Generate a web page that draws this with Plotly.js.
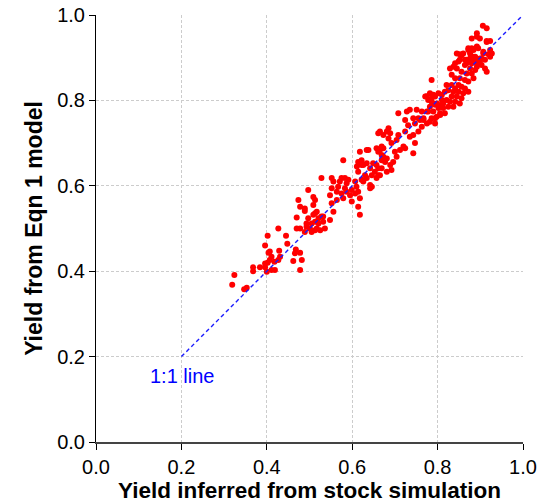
<!DOCTYPE html>
<html>
<head>
<meta charset="utf-8">
<script src="https://cdn.plot.ly/plotly-3.0.1.min.js"></script>
<style>html,body{margin:0;padding:0;background:#fff;}#chart{width:544px;height:504px;}</style>
</head>
<body>
<div id="chart"></div>
<script>
// Simulated (x) vs model (y) yields
const simYield = [
0.324,0.319,0.347,0.353,0.368,0.368,0.384,0.396,0.400,0.396,0.402,0.407,0.411,0.418,0.419,0.411,0.404,0.407,0.427,0.431,
0.429,0.396,0.402,0.427,0.445,0.448,0.462,0.466,0.468,0.478,0.482,0.478,0.470,0.478,0.470,0.489,0.489,0.493,0.505,0.513,
0.521,0.513,0.525,0.532,
0.478,0.474,0.489,0.497,0.493,0.501,0.505,0.509,0.513,0.509,0.497,0.528,0.509,0.517,0.513,0.521,0.517,0.528,0.532,0.536,
0.548,0.556,0.552,0.548,0.552,0.556,0.552,0.564,0.564,0.567,0.571,0.575,0.579,0.583,0.587,0.591,0.587,0.595,0.599,0.599,
0.579,0.575,0.583,0.607,0.610,0.614,0.618,0.607,0.611,0.614,0.618,0.622,0.626,0.634,0.630,0.634,0.626,0.642,0.646,0.642,
0.649,0.653,0.657,0.661,0.665,0.669,0.665,0.673,0.677,0.669,0.618,0.614,0.642,0.646,
0.708,0.728,0.735,0.751,0.743,0.724,0.731,0.747,0.759,0.767,0.775,0.771,0.782,0.790,0.786,0.794,0.790,0.798,0.806,0.802,
0.810,0.786,0.794,0.782,0.763,0.685,0.681,0.685,0.689,0.673,0.665,0.661,0.692,0.704,0.708,0.724,0.735,0.743,0.755,0.747,
0.743,0.720,0.724,0.712,0.700,0.704,0.696,0.689,0.681,0.673,0.661,0.657,0.669,0.638,0.622,0.614,0.634,0.657,0.661,0.622,
0.669,0.681,0.692,
0.880,0.892,0.915,0.923,0.927,0.907,0.895,0.884,0.872,0.876,0.888,0.899,0.911,0.903,0.892,0.880,0.868,0.856,0.845,0.849,
0.864,0.876,0.888,0.880,0.868,0.856,0.845,0.837,0.829,0.833,0.841,0.852,0.864,0.872,0.884,0.892,0.911,0.915,0.786,0.821,
0.833,0.841,0.849,0.856,0.864,0.860,0.849,0.837,0.825,0.817,0.810,0.802,0.794,0.786,0.778,0.833,0.845,0.856,0.852,0.841,
0.829,0.821,0.813,0.806,0.798,0.790,0.782,0.778,0.763,0.755,0.767,0.775,0.794,0.806,0.817,0.813,0.825,0.837,0.872,0.774,
0.906,0.915,0.892,0.899,0.915,0.923,0.892,0.880,0.872,0.852,0.860,0.907,0.919,0.923,0.841,0.852,0.864,0.876,0.884,0.868,
0.880,0.888,0.899,0.903
];
const modelYield = [
0.391,0.368,0.358,0.361,0.409,0.400,0.409,0.409,0.399,0.418,0.420,0.426,0.434,0.422,0.403,0.403,0.443,0.446,0.426,0.434,
0.448,0.460,0.483,0.500,0.483,0.464,0.424,0.442,0.451,0.443,0.426,0.403,0.500,0.500,0.526,0.541,0.492,0.504,0.512,0.536,
0.524,0.496,0.496,0.528,
0.551,0.567,0.547,0.524,0.512,0.500,0.492,0.574,0.567,0.555,0.590,0.618,0.532,0.539,0.516,0.512,0.500,0.528,0.516,0.500,
0.520,0.539,0.559,0.578,0.594,0.610,0.618,0.567,0.586,0.598,0.610,0.582,0.571,0.594,0.606,0.614,0.586,0.578,0.563,0.590,
0.660,0.618,0.618,0.610,0.598,0.586,0.571,0.582,0.645,0.656,0.680,0.660,0.649,0.684,0.625,0.618,0.610,0.641,0.625,0.602,
0.653,0.633,0.618,0.641,0.625,0.660,0.684,0.688,0.656,0.672,0.532,0.551,0.594,0.598,
0.770,0.774,0.778,0.778,0.758,0.754,0.742,0.746,0.754,0.758,0.774,0.809,0.817,0.813,0.797,0.790,0.774,0.762,0.770,0.782,
0.801,0.758,0.746,0.750,0.738,0.735,0.727,0.711,0.723,0.719,0.727,0.723,0.700,0.707,0.719,0.727,0.715,0.719,0.727,0.700,
0.676,0.692,0.688,0.684,0.680,0.668,0.656,0.649,0.664,0.668,0.680,0.688,0.692,0.684,0.649,0.633,0.653,0.649,0.625,0.614,
0.641,0.633,0.637,
0.945,0.949,0.937,0.918,0.910,0.910,0.922,0.918,0.922,0.910,0.902,0.898,0.895,0.883,0.887,0.891,0.895,0.906,0.910,0.891,
0.883,0.875,0.871,0.863,0.863,0.867,0.875,0.879,0.875,0.860,0.852,0.852,0.848,0.844,0.852,0.879,0.875,0.867,0.848,0.836,
0.836,0.828,0.836,0.832,0.828,0.817,0.820,0.820,0.824,0.820,0.813,0.817,0.809,0.805,0.801,0.809,0.809,0.805,0.793,0.797,
0.797,0.801,0.793,0.789,0.793,0.793,0.785,0.774,0.774,0.758,0.754,0.746,0.758,0.766,0.770,0.782,0.785,0.785,0.820,0.810,
0.975,0.969,0.957,0.945,0.939,0.939,0.926,0.922,0.918,0.908,0.910,0.914,0.908,0.902,0.887,0.895,0.895,0.898,0.902,0.887,
0.887,0.891,0.891,0.898
];
const lineX = [0.2, 1.0];
const lineY = [0.2, 1.0];
const tickVals = [0, 0.2, 0.4, 0.6, 0.8, 1.0];
const tickText = ['0.0', '0.2', '0.4', '0.6', '0.8', '1.0'];
const lineLabel = '1:1 line';

const FONT = 'Liberation Sans, Arial, Helvetica, sans-serif';

const traces = [
  {x: simYield, y: modelYield, type: 'scatter', mode: 'markers',
   marker: {color: '#ff0000', size: 6, line: {width: 0}}, hoverinfo: 'skip'},
  {x: lineX, y: lineY, type: 'scatter', mode: 'lines',
   line: {color: '#1a1aff', width: 1.4, dash: '4px,3px'}, hoverinfo: 'skip'}
];

const axisCommon = {
  range: [0, 1], tickvals: tickVals, ticktext: tickText,
  showgrid: true, gridcolor: '#cccccc', griddash: '3px,2px', gridwidth: 1,
  zeroline: false, showline: true, linecolor: '#000', linewidth: 1,
  ticks: 'outside', ticklen: 6, tickcolor: '#000', tickwidth: 1,
  tickfont: {family: FONT, size: 20, color: '#000'}, fixedrange: true
};

const layout = {
  width: 544, height: 504,
  margin: {l: 96, r: 21, t: 15, b: 62},
  paper_bgcolor: '#fff', plot_bgcolor: '#fff',
  showlegend: false,
  xaxis: Object.assign({}, axisCommon, {
    linecolor: '#444', linewidth: 1.5,
    title: {text: 'Yield inferred from stock simulation', standoff: 4,
            font: {family: FONT, size: 22.5, color: '#000', weight: 'bold'}}
  }),
  yaxis: Object.assign({}, axisCommon, {
    title: {text: 'Yield from Eqn 1 model', standoff: 8,
            font: {family: FONT, size: 23, color: '#000', weight: 'bold'}}
  }),
  annotations: [{x: 0.203, y: 0.155, xref: 'x', yref: 'y', text: lineLabel, showarrow: false,
    font: {family: FONT, size: 20, color: '#0000ff'}}]
};

Plotly.newPlot('chart', traces, layout, {displayModeBar: false, staticPlot: true});
</script>
</body>
</html>
